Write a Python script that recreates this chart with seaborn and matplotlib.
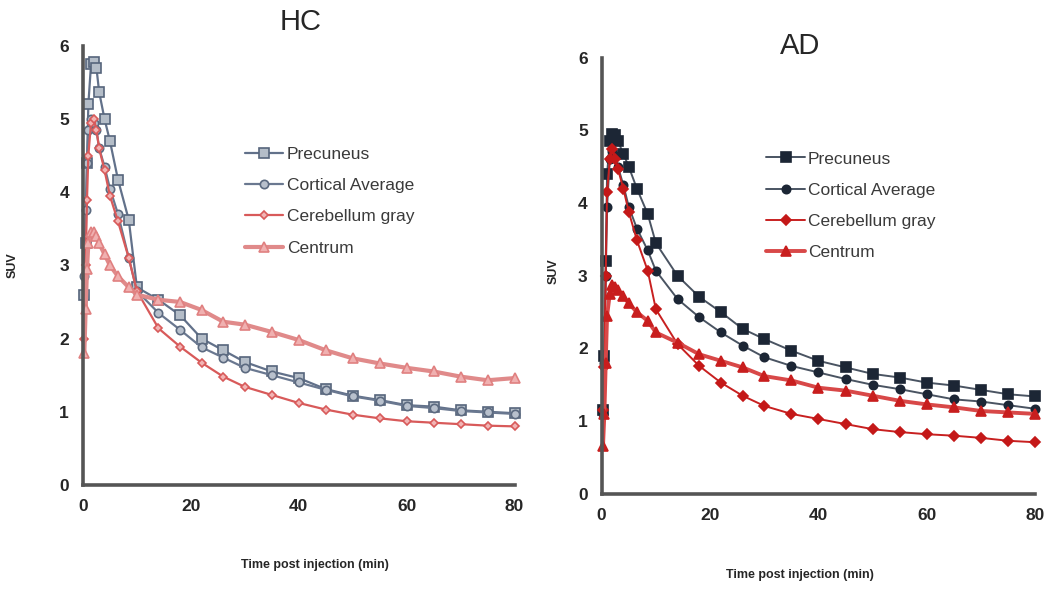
import matplotlib
matplotlib.use("Agg")
import matplotlib.pyplot as plt
import seaborn as sns

# frame mid-times (min)
time_min = [0.25, 0.5, 0.75, 1.0, 1.5, 2.0, 2.5, 3.0, 4.0, 5.0, 6.5, 8.5, 10, 14,
            18, 22, 26, 30, 35, 40, 45, 50, 55, 60, 65, 70, 75, 80]

regions = ["Precuneus", "Cortical Average", "Cerebellum gray", "Centrum"]

# HC SUV curves
hc_precuneus = [2.6, 3.3, 4.4, 5.2, 5.75, 5.78, 5.7, 5.37, 5.0, 4.7, 4.17, 3.62, 2.7, 2.53,
                2.32, 2.0, 1.84, 1.68, 1.55, 1.46, 1.31, 1.22, 1.16, 1.09, 1.07, 1.02, 1.0, 0.98]
hc_cortical = [2.85, 3.75, 4.4, 4.85, 5.0, 4.95, 4.85, 4.6, 4.35, 4.05, 3.7, 3.1, 2.65, 2.35,
               2.12, 1.88, 1.74, 1.6, 1.5, 1.4, 1.3, 1.21, 1.15, 1.08, 1.05, 1.01, 0.99, 0.97]
hc_cerebellum = [2.0, 3.0, 3.9, 4.5, 4.95, 5.0, 4.85, 4.6, 4.3, 3.95, 3.6, 3.1, 2.65, 2.14,
                 1.89, 1.67, 1.48, 1.34, 1.23, 1.12, 1.03, 0.96, 0.91, 0.87, 0.85, 0.83, 0.81, 0.80]
hc_centrum = [1.8, 2.4, 2.95, 3.3, 3.45, 3.45, 3.4, 3.3, 3.15, 3.0, 2.85, 2.7, 2.6, 2.53,
              2.5, 2.39, 2.23, 2.19, 2.09, 1.98, 1.84, 1.73, 1.66, 1.6, 1.55, 1.48, 1.43, 1.46]

# AD SUV curves
ad_precuneus = [1.15, 1.9, 3.2, 4.4, 4.85, 4.95, 4.93, 4.85, 4.68, 4.5, 4.2, 3.85, 3.45, 3.0,
                2.71, 2.5, 2.27, 2.13, 1.97, 1.83, 1.74, 1.65, 1.6, 1.53, 1.49, 1.43, 1.37, 1.34]
ad_cortical = [1.1, 1.8, 3.0, 3.95, 4.6, 4.72, 4.65, 4.5, 4.25, 3.95, 3.65, 3.35, 3.07, 2.68,
               2.43, 2.22, 2.04, 1.88, 1.76, 1.67, 1.58, 1.5, 1.44, 1.37, 1.3, 1.27, 1.22, 1.17]
ad_cerebellum = [1.15, 1.75, 3.0, 4.15, 4.6, 4.75, 4.6, 4.47, 4.2, 3.88, 3.49, 3.07, 2.54, 2.06,
                 1.76, 1.53, 1.35, 1.21, 1.1, 1.03, 0.96, 0.89, 0.85, 0.82, 0.8, 0.77, 0.73, 0.71]
ad_centrum = [0.66, 1.1, 1.8, 2.45, 2.75, 2.88, 2.85, 2.8, 2.72, 2.62, 2.5, 2.38, 2.22, 2.08,
              1.92, 1.83, 1.74, 1.62, 1.56, 1.46, 1.42, 1.35, 1.28, 1.23, 1.19, 1.14, 1.12, 1.1]

sns.set_style("white")
plt.rcParams["font.family"] = ["Liberation Sans", "DejaVu Sans"]

fig = plt.figure(figsize=(10.5, 5.95), dpi=100)
ax_hc = fig.add_axes([0.079, 0.185, 0.411, 0.738])
ax_ad = fig.add_axes([0.573, 0.170, 0.413, 0.733])

# (line colour, marker, marker face, marker edge, line width, marker size)
hc_style = [
    ("#62718a", "s", "#b4bdc8", "#56657c", 1.6, 7),
    ("#6a7890", "o", "#b8c0cc", "#5c6a80", 1.6, 6),
    ("#d85a5a", "D", "#f2b4b4", "#d85a5a", 1.6, 4.5),
    ("#e08a8a", "^", "#f0b0b0", "#e08080", 3.0, 6.5),
]
ad_style = [
    ("#4a5462", "s", "#1c2635", "#1c2635", 1.4, 7),
    ("#4a5462", "o", "#1c2635", "#1c2635", 1.4, 6),
    ("#c82020", "D", "#c41818", "#c41818", 1.4, 5),
    ("#d84848", "^", "#c81e1e", "#c81e1e", 2.8, 7),
]


def draw_panel(ax, series, styles):
    for name, vals, (lc, mk, mfc, mec, lw, ms) in zip(regions, series, styles):
        sns.lineplot(x=time_min, y=vals, ax=ax, color=lc, marker=mk,
                     markerfacecolor=mfc, markeredgecolor=mec, markeredgewidth=1.2,
                     markersize=ms, linewidth=lw, label=name, clip_on=False)
    ax.set_xlim(0, 80)
    ax.set_ylim(0, 6)
    ax.set_xticks([0, 20, 40, 60, 80])
    ax.set_yticks(range(7))
    for s in ["top", "right"]:
        ax.spines[s].set_visible(False)
    for s in ["left", "bottom"]:
        ax.spines[s].set_color("#555555")
        ax.spines[s].set_linewidth(2.6)
    ax.tick_params(axis="both", direction="out", length=4, width=2, color="#555555",
                   labelsize=12.5, pad=6)
    for lab in ax.get_xticklabels() + ax.get_yticklabels():
        lab.set_fontweight("bold")
    ax.set_xlabel("")
    ax.set_ylabel("")


draw_panel(ax_hc, [hc_precuneus, hc_cortical, hc_cerebellum, hc_centrum], hc_style)
draw_panel(ax_ad, [ad_precuneus, ad_cortical, ad_cerebellum, ad_centrum], ad_style)

for ax, loc in [(ax_hc, (0.34, 0.806)), (ax_ad, (0.344, 0.821))]:
    ax.legend(loc="upper left", bbox_to_anchor=loc,
              frameon=False, fontsize=12.5, labelspacing=0.93, handlelength=2.2,
              handletextpad=0.2, labelcolor="#3a3a3a")

fig.text(0.286, 0.963, "HC", ha="center", va="center", fontsize=21)
fig.text(0.762, 0.922, "AD", ha="center", va="center", fontsize=21)
fig.text(0.300, 0.050, "Time post injection (min)", ha="center", va="center",
         fontsize=9, fontweight="bold")
fig.text(0.762, 0.033, "Time post injection (min)", ha="center", va="center",
         fontsize=9, fontweight="bold")
fig.text(0.012, 0.555, "SUV", ha="center", va="center", rotation=90,
         fontsize=9, fontweight="bold")
fig.text(0.527, 0.545, "SUV", ha="center", va="center", rotation=90,
         fontsize=9, fontweight="bold")

fig.savefig("out.png", dpi=100)
